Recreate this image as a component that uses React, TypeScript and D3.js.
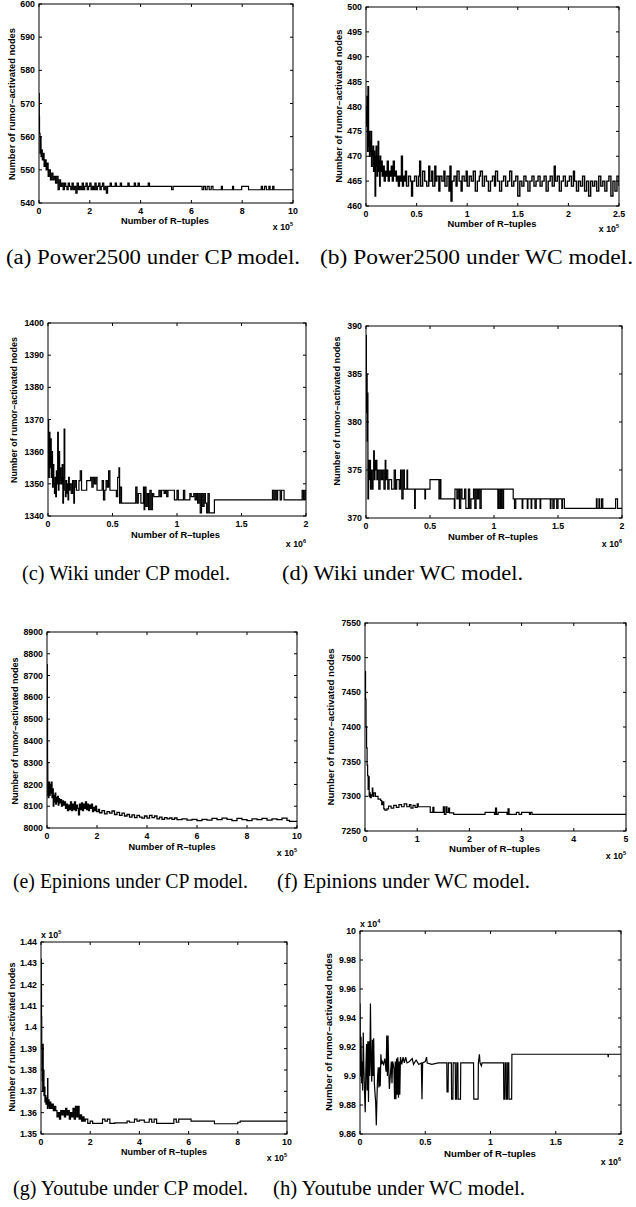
import React from "react";
import * as d3 from "d3";

type Pt = [number, number];

// (a) Power2500, CP model  (x in 1e5, y nodes)
const powerCp: Pt[] = [
  [0, 573], [0.01, 566], [0.02, 561], [0.04, 555], [0.06, 560], [0.08, 554], [0.1, 556], [0.13, 553],
  [0.17, 555], [0.2, 551], [0.24, 553], [0.28, 550], [0.32, 552], [0.36, 548], [0.4, 550], [0.45, 547],
  [0.5, 549], [0.55, 547], [0.6, 548], [0.65, 546], [0.7, 548], [0.75, 544], [0.8, 547], [0.85, 545],
  [0.9, 546], [0.95, 544], [1.0, 546], [1.05, 545], [1.1, 544], [1.15, 546], [1.2, 545], [1.25, 544],
  [1.3, 546], [1.35, 544], [1.4, 545], [1.45, 543], [1.5, 546], [1.55, 544], [1.6, 545], [1.65, 544],
  [1.7, 546], [1.75, 544], [1.8, 545], [1.85, 546], [1.9, 544], [1.95, 545], [2.0, 546], [2.05, 544],
  [2.1, 545], [2.15, 544], [2.2, 546], [2.25, 544], [2.3, 545], [2.35, 546], [2.4, 544], [2.45, 545],
  [2.5, 546], [2.55, 544], [2.6, 545], [2.65, 543], [2.7, 545], [2.8, 546], [2.85, 545], [3.0, 546],
  [3.05, 545], [3.2, 546], [3.25, 545], [3.5, 546], [3.55, 545], [3.75, 546], [3.8, 545], [3.9, 546],
  [3.95, 545], [4.3, 546], [4.35, 545], [5.22, 544], [5.28, 545], [6.42, 544], [6.48, 545], [6.55, 544],
  [6.62, 545], [6.7, 544], [6.78, 545], [6.85, 544], [7.18, 545], [7.22, 544], [7.62, 545], [7.66, 544],
  [7.98, 545], [8.25, 544], [8.75, 545], [8.8, 544], [8.88, 545], [8.95, 544], [9.05, 545], [9.1, 544],
  [9.2, 545], [9.25, 544], [10, 544],
];

// (b) Power2500, WC model (x in 1e5)
const powerWc: Pt[] = [
  [0, 480], [0.005, 476], [0.01, 482], [0.015, 471], [0.02, 484], [0.025, 472], [0.03, 475], [0.035, 470],
  [0.04, 473], [0.045, 471], [0.05, 475], [0.055, 468], [0.06, 471], [0.065, 470], [0.07, 472], [0.075, 467],
  [0.08, 471], [0.085, 469], [0.09, 462], [0.095, 470], [0.1, 472], [0.105, 468], [0.11, 466], [0.115, 470],
  [0.12, 473], [0.125, 467], [0.13, 469], [0.135, 464], [0.14, 470], [0.145, 467], [0.15, 469], [0.16, 466],
  [0.17, 468], [0.18, 465], [0.19, 467], [0.2, 466], [0.21, 469], [0.22, 465], [0.23, 467], [0.24, 466],
  [0.25, 468], [0.26, 465], [0.27, 469], [0.28, 466], [0.29, 467], [0.3, 465], [0.31, 466], [0.32, 464],
  [0.33, 466], [0.34, 465], [0.35, 470], [0.36, 464], [0.37, 466], [0.38, 465], [0.39, 467], [0.4, 464],
  [0.42, 466], [0.44, 465], [0.45, 462], [0.46, 465], [0.48, 466], [0.5, 464], [0.52, 466], [0.53, 469],
  [0.54, 464], [0.56, 467], [0.58, 465], [0.6, 464], [0.62, 468], [0.63, 465], [0.65, 467], [0.66, 464],
  [0.68, 468], [0.69, 465], [0.7, 466], [0.72, 463], [0.73, 466], [0.75, 465], [0.77, 467], [0.78, 464],
  [0.8, 466], [0.82, 463], [0.83, 468], [0.84, 461], [0.85, 465], [0.87, 466], [0.89, 464], [0.9, 467],
  [0.92, 465], [0.94, 463], [0.95, 466], [0.97, 465], [0.99, 467], [1.0, 464], [1.02, 466], [1.04, 465],
  [1.06, 467], [1.08, 463], [1.1, 465], [1.12, 466], [1.13, 467], [1.15, 464], [1.17, 466], [1.19, 465],
  [1.21, 463], [1.23, 465], [1.25, 466], [1.27, 464], [1.28, 467], [1.3, 465], [1.32, 463], [1.34, 465],
  [1.36, 466], [1.38, 464], [1.4, 465], [1.42, 467], [1.44, 464], [1.46, 465], [1.48, 466], [1.5, 462],
  [1.52, 465], [1.54, 464], [1.56, 466], [1.58, 465], [1.6, 463], [1.62, 465], [1.64, 466], [1.66, 464],
  [1.68, 465], [1.7, 466], [1.72, 464], [1.74, 465], [1.76, 466], [1.78, 463], [1.8, 465], [1.82, 466],
  [1.84, 464], [1.86, 468], [1.87, 465], [1.89, 466], [1.91, 463], [1.93, 465], [1.95, 466], [1.97, 464],
  [1.99, 465], [2.01, 466], [2.03, 464], [2.05, 467], [2.06, 465], [2.08, 463], [2.1, 465], [2.12, 464],
  [2.14, 466], [2.16, 463], [2.18, 465], [2.2, 462], [2.22, 465], [2.24, 464], [2.26, 465], [2.28, 463],
  [2.3, 466], [2.32, 464], [2.34, 465], [2.36, 463], [2.38, 465], [2.4, 466], [2.42, 462], [2.44, 465],
  [2.46, 463], [2.48, 466], [2.5, 464],
];

// (c) Wiki, CP model (x in 1e6)
const wikiCp: Pt[] = [
  [0, 1370], [0.005, 1352], [0.01, 1366], [0.015, 1355], [0.02, 1364], [0.025, 1352], [0.03, 1360],
  [0.035, 1349], [0.04, 1356], [0.045, 1350], [0.05, 1347], [0.055, 1352], [0.06, 1346], [0.065, 1354],
  [0.07, 1350], [0.075, 1366], [0.08, 1348], [0.085, 1360], [0.09, 1350], [0.095, 1355], [0.1, 1352],
  [0.105, 1350], [0.11, 1356], [0.115, 1344], [0.12, 1352], [0.125, 1367], [0.13, 1348], [0.135, 1346],
  [0.14, 1351], [0.145, 1347], [0.15, 1350], [0.155, 1345], [0.16, 1352], [0.165, 1348], [0.17, 1350],
  [0.18, 1347], [0.19, 1351], [0.2, 1344], [0.205, 1349], [0.21, 1351], [0.22, 1348], [0.24, 1351],
  [0.25, 1354], [0.26, 1348], [0.3, 1351], [0.33, 1352], [0.34, 1349], [0.35, 1352], [0.36, 1350],
  [0.37, 1352], [0.38, 1348], [0.42, 1351], [0.43, 1345], [0.44, 1348], [0.45, 1351], [0.46, 1349],
  [0.47, 1354], [0.48, 1348], [0.53, 1346], [0.54, 1352], [0.55, 1355], [0.555, 1344], [0.56, 1349],
  [0.57, 1344], [0.68, 1349], [0.69, 1344], [0.7, 1347], [0.72, 1344], [0.74, 1349], [0.745, 1342],
  [0.75, 1349], [0.76, 1343], [0.77, 1347], [0.78, 1342], [0.79, 1348], [0.8, 1342], [0.81, 1347],
  [0.82, 1346], [0.86, 1348], [0.87, 1346], [0.88, 1348], [0.9, 1347], [0.91, 1348], [0.92, 1346],
  [0.93, 1348], [0.96, 1348], [0.98, 1345], [1.0, 1348], [1.01, 1345], [1.05, 1348], [1.06, 1345],
  [1.1, 1347], [1.11, 1346], [1.13, 1347], [1.14, 1345], [1.15, 1347], [1.16, 1344], [1.17, 1347],
  [1.18, 1341], [1.19, 1347], [1.2, 1343], [1.21, 1347], [1.22, 1344], [1.23, 1341], [1.24, 1347],
  [1.25, 1341], [1.28, 1341], [1.29, 1345], [1.74, 1348], [1.75, 1345], [1.76, 1348], [1.77, 1345],
  [1.78, 1348], [1.8, 1345], [1.81, 1348], [1.83, 1345], [1.97, 1348], [1.98, 1345], [1.99, 1348],
  [2.0, 1345],
];

// (d) Wiki, WC model (x in 1e6)
const wikiWc: Pt[] = [
  [0, 389], [0.003, 381], [0.006, 385], [0.009, 378], [0.012, 383], [0.015, 372], [0.02, 376], [0.025, 374],
  [0.03, 376], [0.035, 373], [0.04, 375], [0.045, 374], [0.05, 373], [0.055, 375], [0.06, 377], [0.065, 374],
  [0.07, 376], [0.075, 375], [0.08, 376], [0.085, 374], [0.09, 375], [0.1, 373], [0.11, 375], [0.12, 374],
  [0.13, 375], [0.14, 373], [0.15, 376], [0.155, 374], [0.16, 375], [0.17, 373], [0.18, 374], [0.2, 373],
  [0.22, 375], [0.23, 373], [0.24, 374], [0.26, 373], [0.27, 375], [0.28, 372], [0.29, 375], [0.3, 373],
  [0.32, 375], [0.325, 373], [0.38, 371], [0.385, 373], [0.46, 372], [0.465, 373], [0.5, 374], [0.57, 372],
  [0.58, 374], [0.585, 372], [0.69, 371], [0.695, 373], [0.71, 372], [0.72, 373], [0.73, 371], [0.74, 373],
  [0.75, 372], [0.77, 373], [0.78, 371], [0.8, 373], [0.81, 371], [0.82, 372], [0.84, 373], [0.85, 371],
  [0.86, 373], [0.87, 372], [0.88, 373], [0.89, 371], [0.9, 373], [1.03, 371], [1.035, 373], [1.04, 371],
  [1.05, 373], [1.055, 371], [1.06, 373], [1.07, 371], [1.075, 373], [1.15, 372], [1.16, 371], [1.17, 372],
  [1.22, 371], [1.225, 372], [1.26, 371], [1.265, 372], [1.29, 371], [1.295, 372], [1.32, 371], [1.33, 372],
  [1.36, 371], [1.365, 372], [1.44, 371], [1.445, 372], [1.46, 371], [1.47, 372], [1.49, 371], [1.5, 372],
  [1.53, 371], [1.535, 372], [1.55, 371], [1.8, 372], [1.805, 371], [1.82, 372], [1.825, 371], [1.84, 372],
  [1.85, 371], [1.95, 372], [1.965, 371], [2.0, 371],
];

// (e) Epinions, CP model (x in 1e5)
const epinionsCp: Pt[] = [
  [0, 8750], [0.01, 8500], [0.02, 8300], [0.03, 8150], [0.04, 8200], [0.05, 8140], [0.075, 8210], [0.1, 8150],
  [0.125, 8200], [0.15, 8160], [0.175, 8210], [0.2, 8140], [0.225, 8180], [0.25, 8100], [0.275, 8150],
  [0.3, 8120], [0.325, 8160], [0.35, 8110], [0.375, 8140], [0.4, 8120], [0.425, 8145], [0.45, 8105],
  [0.475, 8135], [0.5, 8115], [0.54, 8130], [0.58, 8100], [0.62, 8125], [0.66, 8105], [0.7, 8120],
  [0.74, 8090], [0.78, 8110], [0.82, 8080], [0.86, 8105], [0.9, 8085], [0.94, 8120], [0.98, 8080],
  [1.02, 8110], [1.06, 8085], [1.1, 8120], [1.14, 8080], [1.18, 8105], [1.22, 8090], [1.26, 8060],
  [1.3, 8110], [1.34, 8085], [1.38, 8115], [1.42, 8080], [1.46, 8110], [1.5, 8090], [1.54, 8120],
  [1.58, 8085], [1.62, 8110], [1.66, 8080], [1.7, 8105], [1.74, 8090], [1.78, 8110], [1.82, 8075],
  [1.86, 8095], [1.9, 8080], [1.94, 8100], [1.98, 8075], [2.05, 8085], [2.1, 8070], [2.2, 8080],
  [2.3, 8065], [2.4, 8075], [2.5, 8068], [2.6, 8078], [2.7, 8062], [2.8, 8072], [2.9, 8058], [3.0, 8068],
  [3.1, 8055], [3.2, 8062], [3.3, 8050], [3.4, 8060], [3.5, 8048], [3.6, 8058], [3.7, 8050], [3.8, 8045],
  [3.9, 8055], [4.0, 8045], [4.1, 8058], [4.2, 8048], [4.3, 8055], [4.4, 8042], [4.5, 8050], [4.6, 8040],
  [4.7, 8048], [4.8, 8042], [4.9, 8046], [5.0, 8040], [5.1, 8046], [5.2, 8038], [5.4, 8042], [5.6, 8036],
  [5.8, 8040], [6.0, 8034], [6.2, 8040], [6.4, 8036], [6.6, 8044], [6.8, 8038], [7.0, 8045], [7.2, 8040],
  [7.4, 8034], [7.6, 8044], [7.8, 8038], [8.0, 8034], [8.2, 8042], [8.4, 8038], [8.6, 8044], [8.8, 8036],
  [9.0, 8042], [9.2, 8038], [9.4, 8045], [9.6, 8035], [9.7, 8030], [10, 8030],
];

// (f) Epinions, WC model (x in 1e5)
const epinionsWc: Pt[] = [
  [0, 7480], [0.01, 7440], [0.02, 7400], [0.03, 7370], [0.04, 7345], [0.05, 7330], [0.06, 7310], [0.07, 7328],
  [0.08, 7300], [0.09, 7305], [0.1, 7298], [0.12, 7302], [0.14, 7312], [0.15, 7300], [0.17, 7305], [0.2, 7300],
  [0.25, 7296], [0.3, 7294], [0.32, 7288], [0.34, 7292], [0.36, 7282], [0.38, 7280], [0.42, 7282],
  [0.45, 7286], [0.5, 7283], [0.55, 7287], [0.6, 7284], [0.65, 7288], [0.7, 7285], [0.75, 7289], [0.8, 7285],
  [0.85, 7288], [0.88, 7283], [0.92, 7287], [0.96, 7284], [1.0, 7289], [1.02, 7285], [1.25, 7277],
  [1.3, 7284], [1.32, 7277], [1.5, 7285], [1.52, 7274], [1.55, 7285], [1.57, 7277], [1.6, 7283], [1.62, 7276],
  [1.7, 7274], [2.3, 7277], [2.48, 7274], [2.5, 7283], [2.52, 7274], [2.55, 7277], [2.72, 7274], [2.74, 7282],
  [2.76, 7274], [2.9, 7277], [2.95, 7274], [3.0, 7277], [3.15, 7274], [3.17, 7277], [3.2, 7274], [5, 7274],
];

// (g) Youtube, CP model (x in 1e5, y in 1e5)
const youtubeCp: Pt[] = [
  [0, 1.432], [0.01, 1.42], [0.02, 1.405], [0.03, 1.39], [0.04, 1.38], [0.05, 1.375], [0.06, 1.385],
  [0.07, 1.37], [0.08, 1.392], [0.09, 1.375], [0.1, 1.38], [0.12, 1.368], [0.14, 1.372], [0.16, 1.365],
  [0.18, 1.368], [0.2, 1.364], [0.22, 1.367], [0.24, 1.365], [0.26, 1.362], [0.27, 1.376], [0.28, 1.363],
  [0.3, 1.366], [0.33, 1.362], [0.36, 1.365], [0.4, 1.362], [0.45, 1.364], [0.5, 1.361], [0.55, 1.363],
  [0.6, 1.361], [0.65, 1.358], [0.7, 1.36], [0.75, 1.357], [0.8, 1.361], [0.85, 1.359], [0.9, 1.361],
  [0.95, 1.358], [1.0, 1.362], [1.05, 1.359], [1.1, 1.361], [1.15, 1.357], [1.2, 1.36], [1.25, 1.358],
  [1.3, 1.362], [1.35, 1.357], [1.4, 1.363], [1.45, 1.358], [1.5, 1.363], [1.55, 1.357], [1.6, 1.359],
  [1.65, 1.356], [1.7, 1.358], [1.75, 1.356], [1.8, 1.357], [1.9, 1.355], [2.0, 1.356], [2.1, 1.355],
  [2.5, 1.357], [2.6, 1.356], [2.7, 1.357], [2.8, 1.355], [3.0, 1.3552], [3.5, 1.356], [3.6, 1.3555],
  [3.8, 1.357], [3.9, 1.356], [4.0, 1.3565], [4.2, 1.3555], [4.4, 1.357], [4.5, 1.3555], [4.6, 1.357],
  [4.7, 1.355], [5.4, 1.357], [5.5, 1.3555], [5.6, 1.357], [6.1, 1.356], [7.05, 1.3548], [8.0, 1.3555],
  [8.1, 1.356], [10, 1.356],
];

// (h) Youtube, WC model (x in 1e6, y in 1e4)
const youtubeWc: Pt[] = [
  [0, 9.95], [0.004, 9.9], [0.008, 9.927], [0.012, 9.895], [0.016, 9.91], [0.02, 9.89], [0.025, 9.93],
  [0.03, 9.905], [0.035, 9.888], [0.04, 9.875], [0.045, 9.905], [0.05, 9.922], [0.055, 9.89], [0.06, 9.924],
  [0.065, 9.882], [0.07, 9.924], [0.075, 9.9], [0.08, 9.95], [0.085, 9.91], [0.09, 9.896], [0.095, 9.925],
  [0.1, 9.9], [0.105, 9.926], [0.11, 9.895], [0.115, 9.888], [0.12, 9.882], [0.125, 9.866], [0.13, 9.885],
  [0.135, 9.9], [0.14, 9.906], [0.145, 9.892], [0.15, 9.906], [0.155, 9.893], [0.16, 9.915], [0.165, 9.908],
  [0.17, 9.91], [0.18, 9.908], [0.19, 9.912], [0.2, 9.903], [0.205, 9.928], [0.21, 9.9], [0.215, 9.928],
  [0.22, 9.905], [0.225, 9.891], [0.24, 9.91], [0.245, 9.895], [0.25, 9.91], [0.255, 9.908], [0.26, 9.905],
  [0.265, 9.884], [0.27, 9.91], [0.275, 9.884], [0.28, 9.912], [0.285, 9.887], [0.29, 9.913], [0.295, 9.885],
  [0.3, 9.91], [0.305, 9.887], [0.31, 9.913], [0.32, 9.908], [0.33, 9.913], [0.34, 9.909], [0.35, 9.913],
  [0.36, 9.909], [0.38, 9.91], [0.4, 9.912], [0.41, 9.908], [0.43, 9.911], [0.45, 9.908], [0.47, 9.909],
  [0.475, 9.884], [0.48, 9.909], [0.5, 9.91], [0.51, 9.913], [0.515, 9.909], [0.55, 9.908], [0.6, 9.909],
  [0.665, 9.909], [0.667, 9.889], [0.675, 9.889], [0.677, 9.909], [0.7, 9.909], [0.702, 9.884],
  [0.712, 9.884], [0.714, 9.909], [0.73, 9.909], [0.732, 9.884], [0.74, 9.884], [0.742, 9.909],
  [0.75, 9.909], [0.752, 9.884], [0.77, 9.884], [0.772, 9.909], [0.87, 9.909], [0.872, 9.884],
  [0.905, 9.884], [0.907, 9.909], [0.915, 9.915], [0.92, 9.909], [0.93, 9.907], [0.935, 9.909],
  [1.1, 9.909], [1.102, 9.884], [1.11, 9.884], [1.112, 9.909], [1.12, 9.909], [1.122, 9.884],
  [1.13, 9.884], [1.132, 9.909], [1.14, 9.909], [1.142, 9.884], [1.162, 9.884], [1.164, 9.915],
  [1.9, 9.915], [1.902, 9.913], [1.905, 9.915], [2.0, 9.915],
];

// tick values and labels
const xTicks10 = [0, 2, 4, 6, 8, 10];
const xTicks25 = [0, 0.5, 1, 1.5, 2, 2.5];
const xTicks2 = [0, 0.5, 1, 1.5, 2];
const xTicks5 = [0, 1, 2, 3, 4, 5];
const yTicksA = [540, 550, 560, 570, 580, 590, 600];
const yTicksB = [460, 465, 470, 475, 480, 485, 490, 495, 500];
const yTicksC = [1340, 1350, 1360, 1370, 1380, 1390, 1400];
const yTicksD = [370, 375, 380, 385, 390];
const yTicksE = [8000, 8100, 8200, 8300, 8400, 8500, 8600, 8700, 8800, 8900];
const yTicksF = [7250, 7300, 7350, 7400, 7450, 7500, 7550];
const yTicksG = [1.35, 1.36, 1.37, 1.38, 1.39, 1.4, 1.41, 1.42, 1.43, 1.44];
const yTicksH = [9.86, 9.88, 9.9, 9.92, 9.94, 9.96, 9.98, 10];
const yLabelsG = ["1.35", "1.36", "1.37", "1.38", "1.39", "1.4", "1.41", "1.42", "1.43", "1.44"];
const yLabelsH = ["9.86", "9.88", "9.9", "9.92", "9.94", "9.96", "9.98", "10"];

const captions = [
  "(a) Power2500 under CP model.",
  "(b) Power2500 under WC model.",
  "(c) Wiki under CP model.",
  "(d) Wiki under WC model.",
  "(e) Epinions under CP model.",
  "(f) Epinions under WC model.",
  "(g) Youtube under CP model.",
  "(h) Youtube under WC model.",
];

const Y_TITLE = "Number of rumor\u2013activated nodes";
const X_TITLE = "Number of R\u2013tuples";

type Panel = {
  data: Pt[];
  xDomain: [number, number];
  yDomain: [number, number];
  xTicks: number[];
  yTicks: number[];
  yLabels?: string[];
  xExp: string;
  yExp?: string;
  caption: string;
  curve: d3.CurveFactory;
  box: [number, number, number, number];
  yTitle: [number, number, number];
  xTitle: [number, number, number];
  expY: number;
  yExpPos?: [number, number];
  cap: [number, number, number];
  sw: number;
};

const panels: Panel[] = [
  { data: powerCp, xDomain: [0, 10], yDomain: [540, 600], xTicks: xTicks10, yTicks: yTicksA, xExp: "5",
    caption: captions[0], curve: d3.curveStepAfter, box: [39, 4, 293, 203], sw: 1.2,
    yTitle: [12, 104, 152], xTitle: [165, 221, 88], expY: 227, cap: [153, 264, 294] },
  { data: powerWc, xDomain: [0, 2.5], yDomain: [460, 500], xTicks: xTicks25, yTicks: yTicksB, xExp: "5",
    caption: captions[1], curve: d3.curveStepAfter, box: [366, 7, 619, 206], sw: 1.4,
    yTitle: [339, 106, 153], xTitle: [492, 224, 89], expY: 229, cap: [476.5, 264, 313] },
  { data: wikiCp, xDomain: [0, 2], yDomain: [1340, 1400], xTicks: xTicks2, yTicks: yTicksC, xExp: "6",
    caption: captions[2], curve: d3.curveStepAfter, box: [48, 323, 306, 516], sw: 1.2,
    yTitle: [14, 410, 146], xTitle: [175.5, 535, 89], expY: 544, cap: [126, 580, 208] },
  { data: wikiWc, xDomain: [0, 2], yDomain: [370, 390], xTicks: xTicks2, yTicks: yTicksD, xExp: "6",
    caption: captions[3], curve: d3.curveStepAfter, box: [366, 326, 622, 518], sw: 1.2,
    yTitle: [337, 411, 149], xTitle: [493, 537, 90], expY: 544, cap: [402.5, 580, 241] },
  { data: epinionsCp, xDomain: [0, 10], yDomain: [8000, 8900], xTicks: xTicks10, yTicks: yTicksE, xExp: "5",
    caption: captions[4], curve: d3.curveStepAfter, box: [47, 632, 297, 828], sw: 1.3,
    yTitle: [15, 731, 147], xTitle: [172, 847, 87], expY: 853, cap: [130.5, 888, 235] },
  { data: epinionsWc, xDomain: [0, 5], yDomain: [7250, 7550], xTicks: xTicks5, yTicks: yTicksF, xExp: "5",
    caption: captions[5], curve: d3.curveStepAfter, box: [365, 623, 626, 831], sw: 1.2,
    yTitle: [331, 727, 157], xTitle: [494.5, 849, 91], expY: 856, cap: [403.5, 888, 253] },
  { data: youtubeCp, xDomain: [0, 10], yDomain: [1.35, 1.44], xTicks: xTicks10, yTicks: yTicksG, yLabels: yLabelsG,
    xExp: "5", yExp: "5", caption: captions[6], curve: d3.curveStepAfter, box: [41, 942, 287, 1134], sw: 1.2,
    yTitle: [12, 1037, 149], xTitle: [164, 1152, 86], expY: 1158, yExpPos: [41, 935], cap: [130.5, 1195, 235] },
  { data: youtubeWc, xDomain: [0, 2], yDomain: [9.86, 10], xTicks: xTicks2, yTicks: yTicksH, yLabels: yLabelsH,
    xExp: "6", yExp: "4", caption: captions[7], curve: d3.curveLinear, box: [360, 931, 621, 1134], sw: 1.2,
    yTitle: [329, 1032, 158], xTitle: [490, 1154, 92], expY: 1162, yExpPos: [360, 924], cap: [399, 1195, 252] },
];

const SANS = "'Liberation Sans', Arial, Helvetica, sans-serif";
const SERIF = "'Liberation Serif', 'Times New Roman', serif";

function PanelView({ p, i }: { p: Panel; i: number }) {
  const [l, t, r, b] = p.box;
  const x = d3.scaleLinear().domain(p.xDomain).range([l, r]);
  const y = d3.scaleLinear().domain(p.yDomain).range([b, t]);
  const line = d3.line<Pt>().x((d) => x(d[0])).y((d) => y(d[1])).curve(p.curve);
  const tl = 3;
  const clipId = `clip-${i}`;
  const fmt = (v: number) => String(v);
  return (
    <g>
      <defs>
        <clipPath id={clipId}>
          <rect x={l} y={t} width={r - l} height={b - t} />
        </clipPath>
      </defs>
      <path d={line(p.data) || ""} fill="none" stroke="#000" strokeWidth={p.sw} clipPath={`url(#${clipId})`} />
      <rect x={l} y={t} width={r - l} height={b - t} fill="none" stroke="#000" strokeWidth={1} />
      {p.xTicks.map((v) => (
        <g key={`xt${v}`}>
          <line x1={x(v)} x2={x(v)} y1={b} y2={b - tl} stroke="#000" />
          <line x1={x(v)} x2={x(v)} y1={t} y2={t + tl} stroke="#000" />
          <text x={x(v)} y={b + 11} textAnchor="middle" fontFamily={SANS} fontWeight="bold" fontSize={8.8}>
            {fmt(v)}
          </text>
        </g>
      ))}
      {p.yTicks.map((v, k) => (
        <g key={`yt${v}`}>
          <line x1={l} x2={l + tl} y1={y(v)} y2={y(v)} stroke="#000" />
          <line x1={r} x2={r - tl} y1={y(v)} y2={y(v)} stroke="#000" />
          <text x={l - 4} y={y(v)} dy="0.35em" textAnchor="end" fontFamily={SANS} fontWeight="bold" fontSize={8.8}>
            {p.yLabels ? p.yLabels[k] : fmt(v)}
          </text>
        </g>
      ))}
      <text
        transform={`translate(${p.yTitle[0]},${p.yTitle[1]}) rotate(-90)`}
        dy="0.35em"
        textAnchor="middle"
        fontFamily={SANS}
        fontWeight="bold"
        fontSize={9.2}
        textLength={p.yTitle[2]}
        lengthAdjust="spacingAndGlyphs"
      >
        {Y_TITLE}
      </text>
      <text
        x={p.xTitle[0]}
        y={p.xTitle[1]}
        dy="0.35em"
        textAnchor="middle"
        fontFamily={SANS}
        fontWeight="bold"
        fontSize={9.2}
        textLength={p.xTitle[2]}
        lengthAdjust="spacingAndGlyphs"
      >
        {X_TITLE}
      </text>
      <text x={r} y={p.expY} dy="0.35em" textAnchor="end" fontFamily={SANS} fontWeight="bold" fontSize={8.8}>
        x 10<tspan dy={-4} fontSize={5.5}>{p.xExp}</tspan>
      </text>
      {p.yExp && p.yExpPos && (
        <text x={p.yExpPos[0]} y={p.yExpPos[1]} dy="0.35em" textAnchor="start" fontFamily={SANS} fontWeight="bold" fontSize={8.8}>
          x 10<tspan dy={-4} fontSize={5.5}>{p.yExp}</tspan>
        </text>
      )}
      <text
        x={p.cap[0]}
        y={p.cap[1]}
        textAnchor="middle"
        fontFamily={SERIF}
        fontSize={20}
        textLength={p.cap[2]}
        lengthAdjust="spacingAndGlyphs"
      >
        {p.caption}
      </text>
    </g>
  );
}

export default function App() {
  return (
    <svg
      width={636}
      height={1207}
      viewBox="0 0 636 1207"
      style={{ position: "absolute", left: 0, top: 0, background: "#fff" }}
    >
      <rect x={0} y={0} width={636} height={1207} fill="#fff" />
      {panels.map((p, i) => (
        <PanelView key={i} p={p} i={i} />
      ))}
    </svg>
  );
}
